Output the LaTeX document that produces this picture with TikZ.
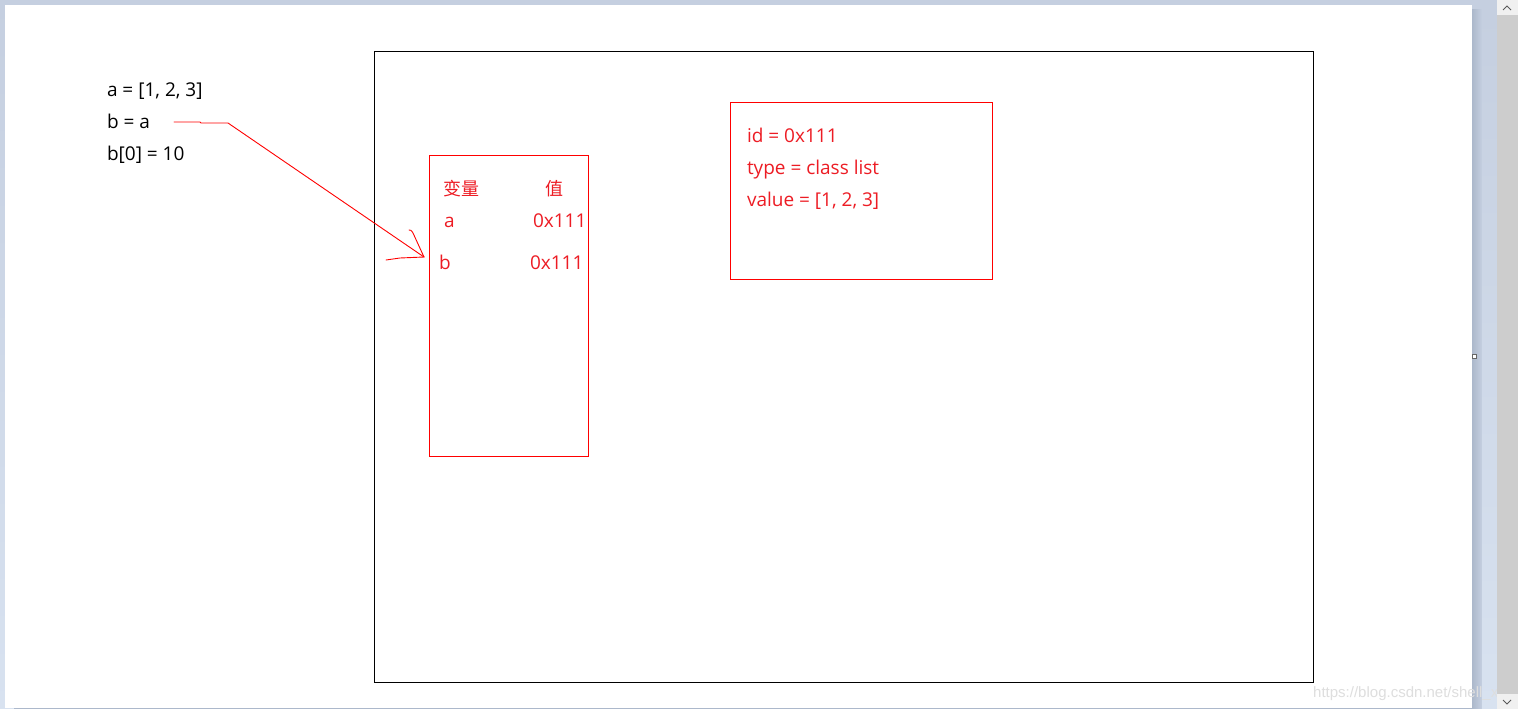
\documentclass[tikz,border=0pt]{standalone}
\usepackage{fontspec}
\setmainfont{Open Sans}
\newfontfamily\cjk{Noto Sans CJK SC}
\newfontfamily\wmfont{Liberation Sans}
\definecolor{inkred}{RGB}{237,28,36}
\definecolor{linered}{RGB}{255,0,0}
\definecolor{winframe}{RGB}{197,207,224}
\definecolor{winside}{RGB}{216,226,240}
\definecolor{winshadow}{RGB}{172,184,203}
\definecolor{scrolltrack}{RGB}{205,205,205}
\definecolor{scrollbtn}{RGB}{240,240,240}
\definecolor{wmgray}{RGB}{222,222,222}
\begin{document}
\begin{tikzpicture}[x=1pt,y=-1pt,
  txt/.style={inner sep=0pt, outer sep=0pt, anchor=base west, font=\fontsize{19}{22}\selectfont},
  redtxt/.style={txt, text=inkred},
  boxframe/.style={draw, line width=1pt, inner sep=0pt, outer sep=0pt, anchor=north west},
  redbox/.style={boxframe, draw=linered},
  blackbox/.style={boxframe, draw=black},
  pen/.style={draw=linered, line width=0.9pt, line join=round, line cap=round}]
\useasboundingbox (0,0) rectangle (1518,709);
% window background
\shade[top color=winframe, bottom color=winside] (0,0) rectangle (1518,709);
\shade[left color=winshadow, right color=winframe] (1472,10) rectangle (1482,709);
\shade[top color=winframe, bottom color=winside] (1482,10) rectangle (1496,709);
\fill[white] (5,5) rectangle (1472,708);
\draw[winshadow, line width=1pt] (14,708.5) -- (1472,708.5);
% watermark
\node[inner sep=0pt, anchor=base west, font=\wmfont\fontsize{15}{18}\selectfont, text=wmgray] (wm) at (1313,697) {https://blog.csdn.net/shell\_x};
% scrollbar
\fill[scrolltrack] (1497,0) rectangle (1518,709);
\fill[scrollbtn] (1497,0) rectangle (1518,15);
\fill[scrollbtn] (1497,694) rectangle (1518,709);
\draw[black!65, line width=1pt] (1503,10) -- (1507,6) -- (1511,10);
\draw[black!65, line width=1pt] (1503,700) -- (1507,704) -- (1511,700);
\draw[black!60, fill=white, line width=0.6pt] (1472.5,354.5) rectangle (1476.5,358.5);
% main frame
\node[blackbox, minimum width=939pt, minimum height=631pt] (frame) at (374.5,51.5) {};
% variable table
\node[redbox, minimum width=159pt, minimum height=301pt] (vars) at (429.5,155.5) {};
\node[redtxt, font=\cjk\fontsize{18}{22}\selectfont] (hvar) at (443,195) {变量};
\node[redtxt, font=\cjk\fontsize{18}{22}\selectfont] (hval) at (545,195) {值};
\node[redtxt] (va) at (444,227) {a};
\node[redtxt] (vaval) at (533,227) {0x111};
\node[redtxt] (vb) at (439,269) {b};
\node[redtxt] (vbval) at (530,269) {0x111};
% object box
\node[redbox, minimum width=262pt, minimum height=177pt] (obj) at (730.5,102.5) {};
\node[redtxt] (oid) at (747,142) {id = 0x111};
\node[redtxt] (otype) at (747,174) {type = class list};
\node[redtxt] (oval) at (747,206) {value = [1, 2, 3]};
% code
\node[txt] (c1) at (107,96) {a = [1, 2, 3]};
\node[txt] (c2) at (107,128) {b = a};
\node[txt] (c3) at (107,160) {b[0] = 10};
% hand-drawn arrow
\coordinate (tail) at (174,122);
\coordinate (bend) at (228,123);
\coordinate (tip) at (424,257);
\draw[pen] (tail) -- (200,122) -- (201,123) -- (bend) -- (tip);
\draw[pen] (409,230) .. controls (411,230) .. (413,233) -- (tip);
\draw[pen] (386,260) -- (400,258) -- (tip);
\end{tikzpicture}
\end{document}
